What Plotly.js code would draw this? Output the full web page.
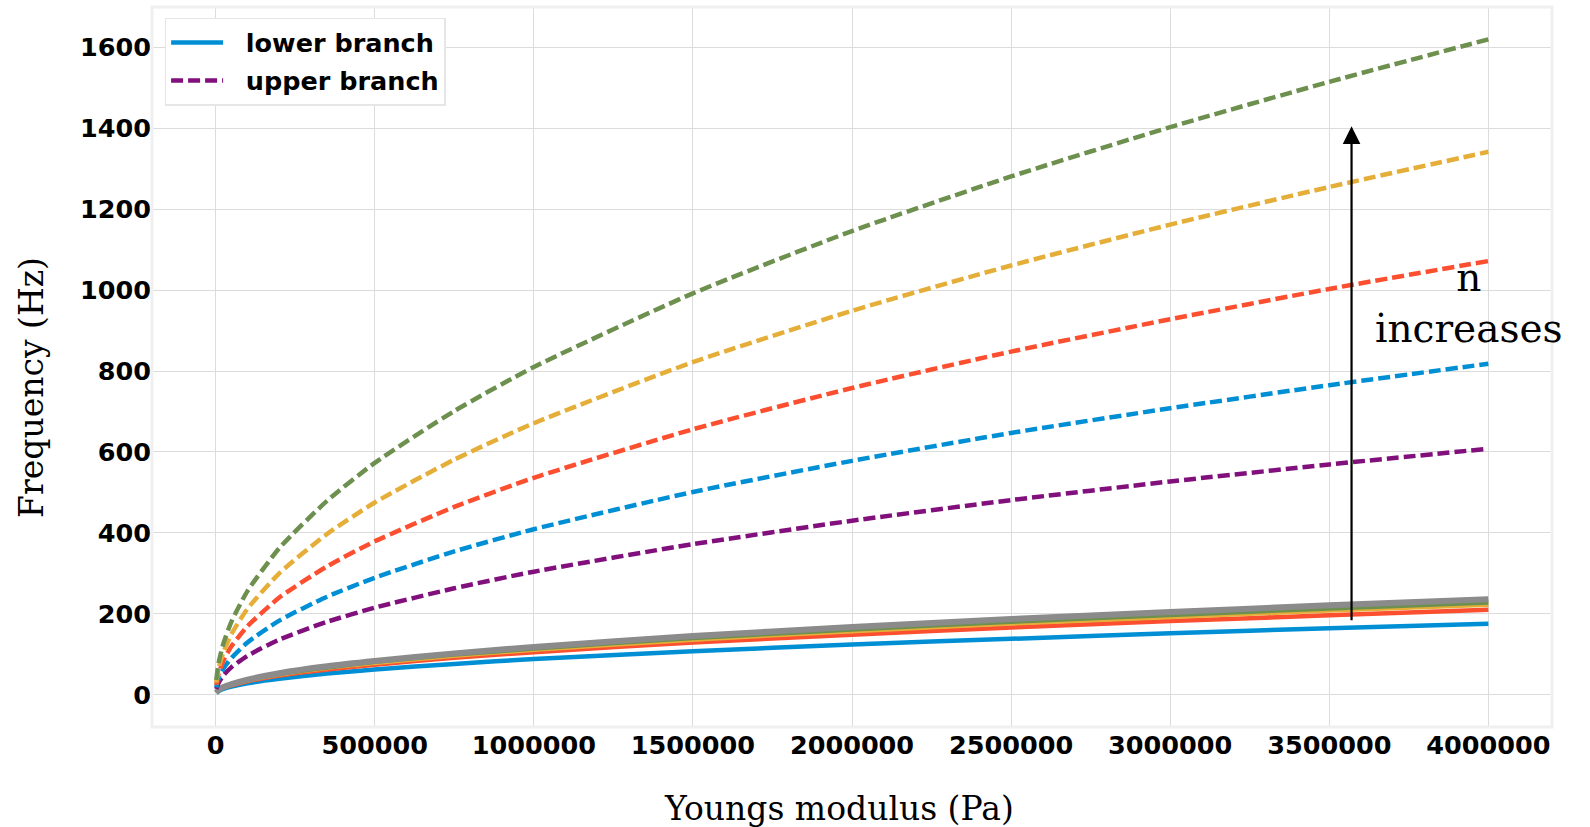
<!DOCTYPE html>
<html>
<head>
<meta charset="utf-8">
<script src="https://cdn.plot.ly/plotly-3.0.1.min.js"></script>
<style>html,body{margin:0;padding:0;background:#fff;}#chart{width:1590px;height:827px;}</style>
</head>
<body>
<div id="chart"></div>
<script>
// Young's modulus values (Pa)
const youngs = [2000, 10000, 25000, 50000, 100000, 200000, 350000, 500000, 750000, 1000000, 1500000, 2000000, 2500000, 3000000, 3500000, 4000000];

// Lower branch frequencies (Hz), n increasing
const lowerN1 = [4, 9, 14, 20, 28, 39, 52, 62, 76, 88, 107, 124, 138, 152, 164, 175];
const lowerN2 = [5, 11, 17, 23, 33, 47, 62, 74, 91, 105, 129, 148, 166, 182, 196, 210];
const lowerN3 = [5, 11, 18, 25, 35, 50, 66, 78, 96, 111, 136, 157, 176, 192, 208, 222];
const lowerN4 = [5, 11, 18, 25, 36, 51, 67, 81, 99, 114, 140, 161, 180, 197, 213, 228];
const lowerN5 = [5, 12, 19, 26, 37, 53, 70, 83, 102, 118, 145, 167, 187, 204, 221, 236];

// Upper branch frequencies (Hz), n increasing
const upperN1 = [14, 30, 48, 68, 96, 136, 180, 215, 263, 304, 372, 430, 481, 527, 569, 608];
const upperN2 = [18, 41, 65, 91, 129, 183, 242, 289, 354, 409, 501, 578, 647, 708, 765, 818];
const upperN3 = [24, 54, 85, 120, 169, 240, 317, 379, 464, 536, 656, 758, 848, 928, 1003, 1072];
const upperN4 = [30, 67, 106, 150, 212, 300, 397, 475, 581, 671, 822, 949, 1061, 1162, 1255, 1342];
const upperN5 = [36, 81, 128, 181, 256, 362, 479, 573, 701, 810, 992, 1146, 1281, 1403, 1515, 1620];

const lowerSeries = [lowerN1, lowerN2, lowerN3, lowerN4, lowerN5];
const upperSeries = [upperN1, upperN2, upperN3, upperN4, upperN5];
const lowerColors = ['#008fd5', '#fc4f30', '#e5ae38', '#6d904f', '#8b8b8b'];
const upperColors = ['#810f7c', '#008fd5', '#fc4f30', '#e5ae38', '#6d904f'];
const legendNames = ['lower branch', 'upper branch'];

// Arrow annotation
const arrowX = 3570000;
const arrowFrom = 180;
const arrowTo = 1405;
const annotText = 'n<br>increases';

const traces = [];
lowerSeries.forEach((s, i) => {
  traces.push({
    x: youngs, y: s, type: 'scatter', mode: 'lines',
    line: {color: lowerColors[i], width: i === 4 ? 6 : 4.5, shape: 'spline', smoothing: 0.6},
    name: '&nbsp;&nbsp;' + legendNames[0], showlegend: i === 0, legendgroup: 'lower'
  });
});
upperSeries.forEach((s, i) => {
  traces.push({
    x: youngs, y: s, type: 'scatter', mode: 'lines',
    line: {color: upperColors[i], width: 4.5, dash: '12px,5px', shape: 'spline', smoothing: 0.6},
    name: '&nbsp;&nbsp;' + legendNames[1], showlegend: i === 0, legendgroup: 'upper'
  });
});

const tickFont = {family: 'DejaVu Sans', size: 25.5, color: '#000', weight: 'bold'};
const titleFont = {family: 'DejaVu Serif', size: 33, color: '#000'};

const layout = {
  width: 1590, height: 827,
  paper_bgcolor: '#ffffff', plot_bgcolor: '#ffffff',
  margin: {l: 152, r: 38, t: 7, b: 100},
  showlegend: true,
  legend: {
    x: 0.009, y: 0.985, xanchor: 'left', yanchor: 'top',
    bgcolor: '#ffffff', bordercolor: '#e6e6e6', borderwidth: 1.5,
    font: {family: 'DejaVu Sans', size: 25.5, color: '#000', weight: 'bold'},
    itemwidth: 52, tracegroupgap: 2
  },
  xaxis: {
    range: [-200000, 4200000],
    tickvals: [0, 500000, 1000000, 1500000, 2000000, 2500000, 3000000, 3500000, 4000000],
    ticktext: ['0', '500000', '1000000', '1500000', '2000000', '2500000', '3000000', '3500000', '4000000'],
    showgrid: true, gridcolor: '#dcdcdc', gridwidth: 1.3,
    zeroline: false, showline: false, ticks: '',
    tickfont: tickFont
  },
  yaxis: {
    range: [-80, 1700],
    tickvals: [0, 200, 400, 600, 800, 1000, 1200, 1400, 1600],
    showgrid: true, gridcolor: '#dcdcdc', gridwidth: 1.3,
    zeroline: false, showline: false, ticks: '',
    tickfont: tickFont
  },
  shapes: [{
    type: 'rect', xref: 'paper', yref: 'paper', x0: 0, x1: 1, y0: 0, y1: 1,
    line: {color: '#f0f0f0', width: 3}, fillcolor: 'rgba(0,0,0,0)', layer: 'above'
  }],
  annotations: [
    {
      x: arrowX, y: arrowTo, ax: arrowX, ay: arrowFrom,
      xref: 'x', yref: 'y', axref: 'x', ayref: 'y',
      showarrow: true, arrowhead: 2, arrowsize: 1.6, arrowwidth: 2.2, arrowcolor: '#000', text: ''
    },
    {
      x: 3940000, y: 968, xref: 'x', yref: 'y', xanchor: 'center', yanchor: 'middle',
      text: annotText, showarrow: false, align: 'center',
      font: {family: 'DejaVu Serif', size: 39, color: '#000'}
    },
    {
      text: 'Youngs modulus (Pa)', xref: 'paper', yref: 'paper', x: 0.491, y: -0.1125,
      xanchor: 'center', yanchor: 'middle', showarrow: false, font: titleFont
    },
    {
      text: 'Frequency (Hz)', xref: 'paper', yref: 'paper', x: -0.0857, y: 0.471,
      xanchor: 'center', yanchor: 'middle', showarrow: false, textangle: -90, font: titleFont
    }
  ]
};

Plotly.newPlot('chart', traces, layout, {displayModeBar: false, responsive: false});
</script>
</body>
</html>
